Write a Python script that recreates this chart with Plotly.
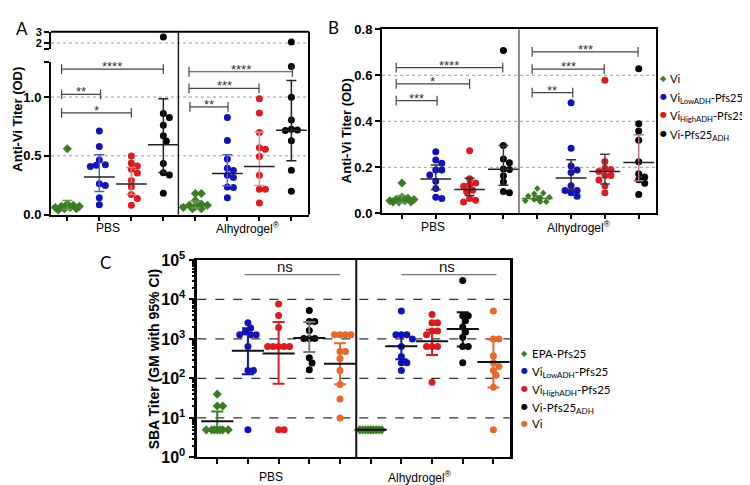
import numpy as np
import plotly.graph_objects as go

W, H = 750, 485
def fx(px): return px / W
def fy(py): return 1 - py / H

# ---------------- data ----------------
adjuvants = ["PBS", "Alhydrogel<sup>®</sup>"]
names_AB = ["Vi", "Vi<sub>LowADH</sub>-Pfs25", "Vi<sub>HighADH</sub>-Pfs25", "Vi-Pfs25<sub>ADH</sub>"]
names_C = ["EPA-Pfs25", "Vi<sub>LowADH</sub>-Pfs25", "Vi<sub>HighADH</sub>-Pfs25", "Vi-Pfs25<sub>ADH</sub>", "Vi"]

# Panel A: anti-Vi titer (OD)
A_pbs_vi = [0.56, 0.09, 0.08, 0.07, 0.07, 0.06, 0.06, 0.05, 0.05, 0.04]
A_pbs_low = [0.71, 0.58, 0.465, 0.424, 0.408, 0.42, 0.263, 0.247, 0.144, 0.084]
A_pbs_high = [0.498, 0.438, 0.413, 0.386, 0.353, 0.291, 0.237, 0.171, 0.136, 0.079]
A_pbs_adh = [2.54, 0.86, 0.826, 0.759, 0.671, 0.625, 0.435, 0.356, 0.337, 0.182]
A_alh_vi = [0.18, 0.18, 0.12, 0.09, 0.08, 0.08, 0.07, 0.06, 0.05, 0.05]
A_alh_low = [0.826, 0.63, 0.473, 0.394, 0.375, 0.334, 0.315, 0.234, 0.23, 0.144]
A_alh_high = [0.985, 0.865, 0.699, 0.568, 0.555, 0.495, 0.334, 0.215, 0.215, 0.098]
A_alh_adh = [2.09, 1.26, 0.998, 0.805, 0.726, 0.72, 0.715, 0.628, 0.378, 0.198]
A_gm = [0.073, 0.32, 0.261, 0.595, 0.079, 0.35, 0.41, 0.718]
A_lo = [0.045, 0.196, 0.17, 0.358, 0.055, 0.245, 0.247, 0.459]
A_hi = [0.12, 0.51, 0.40, 0.985, 0.115, 0.508, 0.70, 1.14]
A_sig_x0 = [-0.18, -0.18, -0.18, 3.8, 3.8, 3.83]
A_sig_x1 = [3.0, 1.04, 2.0, 7.03, 5.99, 5.02]
A_sig_y = [1.237, 1.022, 0.865, 1.215, 1.074, 0.916]
A_sig_txt = ["****", "**", "*", "****", "***", "**"]

# Panel B: anti-Vi titer (OD)
B_pbs_vi = [0.132, 0.07, 0.065, 0.06, 0.06, 0.055, 0.055, 0.05, 0.05, 0.05]
B_pbs_low = [0.268, 0.232, 0.218, 0.188, 0.188, 0.167, 0.139, 0.108, 0.07, 0.064]
B_pbs_high = [0.272, 0.15, 0.132, 0.124, 0.118, 0.1, 0.095, 0.065, 0.057, 0.049]
B_pbs_adh = [0.708, 0.295, 0.236, 0.22, 0.193, 0.19, 0.163, 0.136, 0.095, 0.09]
B_alh_vi = [0.108, 0.088, 0.085, 0.075, 0.07, 0.068, 0.06, 0.055, 0.05, 0.05]
B_alh_low = [0.481, 0.283, 0.206, 0.188, 0.178, 0.12, 0.099, 0.099, 0.089, 0.074]
B_alh_high = [0.578, 0.225, 0.196, 0.19, 0.182, 0.164, 0.164, 0.145, 0.12, 0.09]
B_alh_adh = [0.628, 0.389, 0.358, 0.318, 0.224, 0.172, 0.158, 0.146, 0.131, 0.082]
B_gm = [0.058, 0.149, 0.104, 0.192, 0.065, 0.154, 0.182, 0.221]
B_lo = [0.045, 0.104, 0.077, 0.122, 0.057, 0.102, 0.128, 0.142]
B_hi = [0.077, 0.21, 0.152, 0.295, 0.075, 0.233, 0.257, 0.342]
B_sig_x0 = [-0.17, -0.17, -0.17, 3.85, 3.85, 3.85]
B_sig_x1 = [2.98, 2.0, 1.04, 6.98, 5.98, 5.05]
B_sig_y = [0.633, 0.563, 0.49, 0.702, 0.627, 0.525]
B_sig_txt = ["****", "*", "***", "***", "***", "**"]

# Panel C: SBA titer
C_pbs_epa = [40, 20, 20, 5, 5, 5, 5, 5, 5, 5]
C_pbs_low = [2560, 1900, 1500, 1280, 1280, 1280, 640, 160, 160, 5]
C_pbs_high = [7640, 3900, 1960, 640, 640, 640, 640, 640, 5, 5]
C_pbs_adh = [5250, 2750, 2750, 1630, 1020, 1020, 1020, 333, 245, 167]
C_pbs_vi = [1280, 1280, 1280, 1280, 480, 480, 320, 160, 70, 30, 10]
C_alh_epa = [5, 5, 5, 5, 5, 5, 5, 5, 5, 5]
C_alh_low = [5120, 1280, 1280, 1280, 1000, 640, 360, 250, 250, 160]
C_alh_high = [4140, 2560, 2560, 1600, 1600, 1280, 640, 640, 640, 80]
C_alh_adh = [30000, 3840, 3840, 2900, 2000, 1500, 1100, 640, 640, 250]
C_alh_vi = [5120, 1000, 1000, 370, 250, 200, 160, 120, 60, 5]
C_gm = [8.2, 504, 425, 1060, 235, 5, 654, 880, 1790, 262]
C_lo = [5, 127, 73, 468, 71, 5, 305, 395, 641, 59]
C_hi = [14.6, 1860, 2700, 2700, 773, 5, 1400, 1720, 4710, 967]
C_ns_x0 = [0.89, 6.0]
C_ns_x1 = [4.0, 9.1]
C_ns_y = [42300, 42300]
C_ns_textx = [2.2, 7.5]

# ---------------- styles ----------------
GREEN, BLUE, RED, BLACK, ORANGE = "#3b7d23", "#1212b8", "#dc1a22", "#000000", "#e4692a"
cols_AB = [GREEN, BLUE, RED, BLACK]
cols_C = [GREEN, BLUE, RED, BLACK, ORANGE]
syms_AB = ["diamond", "circle", "circle", "circle"]
syms_C = ["diamond", "circle", "circle", "circle", "circle"]
glyph = {"diamond": "◆", "circle": "●"}
A_ecol = ["#6b9a52", "#5a5ad0", "#e87a7a", "#222222", "#6b9a52", "#5a5ad0", "#f08a8a", "#222222"]
A_ccol = [GREEN, "#222", "#222", "#222", GREEN, "#222", "#222", "#222"]
B_ecol = ["#6b9a52", "#333", "#333", "#333", "#3b6d23", "#333", "#444", "#b07878"]
B_ccol = [GREEN, "#222", "#222", "#222", GREEN, "#222", "#222", "#222"]
C_ecol = [GREEN, BLUE, RED, "#777777", ORANGE, GREEN, BLUE, RED, "#111", ORANGE]
C_ccol = ["#111"] * 10

TICKFONT = dict(family="Liberation Sans, Arial", size=13, color="black", weight="bold")

fig = go.Figure()


def swarm(vals, ypix, ppu, sep, maxw):
    ypix = np.asarray([ypix(v) for v in vals])
    order = np.argsort(ypix)
    placed = []
    offs = np.zeros(len(vals))
    step = sep * 0.5
    for i in order:
        y = ypix[i]
        best, bestd = 0.0, -1
        k = 0
        while True:
            cand = 0.0 if k == 0 else ((k + 1) // 2) * step * (1 if k % 2 else -1)
            if abs(cand) > maxw:
                break
            d = min([np.hypot(cand - px, y - py) for px, py in placed] + [1e9])
            if d >= sep:
                best, bestd = cand, d
                break
            if d > bestd:
                best, bestd = cand, d
            k += 1
        placed.append((best, y))
        offs[i] = best / ppu
    return offs


def ypixA(v): return 204 - 122.6 * v if v <= 1.4 else 25 - 11.7 * (v - 2)
def ypixB(v): return 202.7 - 240 * v
def ypixC(v): return 457.3 - 41.2 * np.log10(v)


def add_points(groups, names, cols, syms, xa, ya_fn, ypix, ppu, sizes, sep, maxw):
    n = len(names)
    for gi, vals in enumerate(groups):
        si = gi % n
        offs = swarm(vals, ypix, ppu, sep, maxw)
        xs = gi + offs
        split = {}
        for x, v in zip(xs, vals):
            split.setdefault(ya_fn(v), ([], []))
            split[ya_fn(v)][0].append(x)
            split[ya_fn(v)][1].append(v)
        for ya, (xx, vv) in split.items():
            fig.add_trace(go.Scatter(
                x=xx, y=vv, xaxis=xa, yaxis=ya, mode="markers",
                marker=dict(symbol=syms[si], size=sizes[gi], color=cols[si], line=dict(width=0)),
                name=names[si], showlegend=False, hoverinfo="y"))


def add_summary(xa, ya, gms, los, his, ecols, ccols, cap, wid, lw):
    for i, (g, lo, hi) in enumerate(zip(gms, los, his)):
        fig.add_trace(go.Scatter(
            x=[i], y=[g], xaxis=xa, yaxis=ya, mode="markers", showlegend=False, hoverinfo="skip",
            marker=dict(symbol="line-ew", size=wid, color=ccols[i], line=dict(width=lw, color=ccols[i])),
            error_y=dict(type="data", symmetric=False, array=[hi - g], arrayminus=[g - lo],
                         color=ecols[i], thickness=lw, width=cap)))


def add_brackets(xa, ya, x0s, x1s, ys, txts, fs):
    for x0, x1, y, t in zip(x0s, x1s, ys, txts):
        fig.add_trace(go.Scatter(
            x=[x0, x1], y=[y, y], xaxis=xa, yaxis=ya, mode="lines+markers", showlegend=False,
            hoverinfo="skip", line=dict(color="#444", width=1.2),
            marker=dict(symbol="line-ns", size=7, line=dict(width=1.2, color="#444"))))
        fig.add_annotation(x=(x0 + x1) / 2, y=y, xref=xa, yref=ya, text=t, showarrow=False,
                           yanchor="bottom", yshift=-7, font=dict(family="Liberation Sans", size=fs, color="#333"))


# ---- panel A ----
A_groups = [A_pbs_vi, A_pbs_low, A_pbs_high, A_pbs_adh, A_alh_vi, A_alh_low, A_alh_high, A_alh_adh]
add_points(A_groups, names_AB, cols_AB, syms_AB, "x", lambda v: "y2" if v > 1.4 else "y",
           ypixA, 32.0, [7] * 8, 6.0, 13)
add_summary("x", "y", A_gm, A_lo, A_hi, A_ecol, A_ccol, 5, 22, 1.5)
add_brackets("x", "y", A_sig_x0, A_sig_x1, A_sig_y, A_sig_txt, 13)

# ---- panel B ----
B_groups = [B_pbs_vi, B_pbs_low, B_pbs_high, B_pbs_adh, B_alh_vi, B_alh_low, B_alh_high, B_alh_adh]
add_points(B_groups, names_AB, cols_AB, syms_AB, "x2", lambda v: "y3",
           ypixB, 33.8, [7, 7, 7, 7, 5, 7, 7, 7], 6.0, 14)
add_summary("x2", "y3", B_gm, B_lo, B_hi, B_ecol, B_ccol, 5, 22, 1.5)
add_brackets("x2", "y3", B_sig_x0, B_sig_x1, B_sig_y, B_sig_txt, 13)

# ---- panel C ----
C_groups = [C_pbs_epa, C_pbs_low, C_pbs_high, C_pbs_adh, C_pbs_vi,
            C_alh_epa, C_alh_low, C_alh_high, C_alh_adh, C_alh_vi]
add_points(C_groups, names_C, cols_C, syms_C, "x3", lambda v: "y4",
           ypixC, 30.7, [7] * 10, 5.5, 12)
add_summary("x3", "y4", C_gm, C_lo, C_hi, C_ecol, C_ccol, 6, 23, 2)
for x0, x1, y, tx in zip(C_ns_x0, C_ns_x1, C_ns_y, C_ns_textx):
    fig.add_trace(go.Scatter(x=[x0, x1], y=[y, y], xaxis="x3", yaxis="y4", mode="lines",
                             showlegend=False, hoverinfo="skip", line=dict(color="#555", width=1)))
    fig.add_annotation(x=tx, y=np.log10(y), xref="x3", yref="y4", text="ns", showarrow=False,
                       yanchor="bottom", yshift=-2, font=dict(family="Liberation Sans", size=15, color="#111"))

# ---------------- axes ----------------
axcommon = dict(showline=True, linecolor="black", showgrid=False, zeroline=False, ticks="outside",
                tickcolor="black", fixedrange=True)
fig.update_layout(
    xaxis=dict(domain=[fx(43), fx(301)], range=[-0.51, 7.55], anchor="y", linewidth=2, tickwidth=1.5,
               ticklen=4, tickvals=list(range(8)), showticklabels=False, **axcommon),
    yaxis=dict(domain=[fy(204), fy(44.6)], range=[0, 1.3], anchor="x", linewidth=2, tickwidth=2,
               ticklen=5, tickvals=[0, 0.5, 1.0, 1.3], ticktext=["0.0", "0.5", "1.0", ""],
               tickfont=TICKFONT, **axcommon),
    yaxis2=dict(domain=[fy(30.9), fy(13.3)], range=[1.5, 3], anchor="x", linewidth=2, tickwidth=2,
                ticklen=5, tickvals=[1.5, 2, 3], ticktext=["", "2", "3"],
                tickfont=dict(TICKFONT, size=11), **axcommon),
    xaxis2=dict(domain=[fx(374), fx(648.3)], range=[-0.59, 7.52], anchor="y3", linewidth=2, tickwidth=1.5,
                ticklen=4, tickvals=list(range(8)), showticklabels=False, mirror=True, **axcommon),
    yaxis3=dict(domain=[fy(202.7), fy(10.7)], range=[0, 0.8], anchor="x2", linewidth=2, tickwidth=1.5,
                ticklen=5, tickvals=[0, 0.2, 0.4, 0.6, 0.8], ticktext=["0.0", "0.2", "0.4", "0.6", "0.8"],
                tickfont=TICKFONT, mirror=True, **axcommon),
    xaxis3=dict(domain=[fx(189.3), fx(502.3)], range=[-0.65, 9.55], anchor="y4", linewidth=2, tickwidth=1.5,
                ticklen=5, tickvals=list(range(10)), showticklabels=False, mirror=True, **axcommon),
    yaxis4=dict(domain=[fy(457.3), fy(251.3)], type="log", range=[0, 5], anchor="x3", linewidth=2.5,
                tickwidth=2, ticklen=6, tickvals=[1, 10, 100, 1000, 10000, 100000],
                ticktext=["10<sup>0</sup>", "10<sup>1</sup>", "10<sup>2</sup>", "10<sup>3</sup>",
                          "10<sup>4</sup>", "10<sup>5</sup>"],
                tickfont=dict(family="Liberation Sans, Arial", size=16, color="black", weight="bold"),
                minor=dict(ticks="outside", ticklen=3, tickcolor="black", dtick="D1", showgrid=False),
                mirror=True, **axcommon),
)

shapes = []
for yv in [0.5, 1.0]:
    shapes.append(dict(type="line", xref="x domain", x0=0, x1=1, yref="y", y0=yv, y1=yv,
                       line=dict(color="#999", width=1, dash="dot"), layer="below"))
shapes.append(dict(type="line", xref="x domain", x0=0, x1=1, yref="y2", y0=2, y1=2,
                   line=dict(color="#999", width=1, dash="dot"), layer="below"))
for yv in [0.2, 0.4, 0.6]:
    shapes.append(dict(type="line", xref="x2 domain", x0=0, x1=1, yref="y3", y0=yv, y1=yv,
                       line=dict(color="#999", width=1, dash="dot"), layer="below"))
for yv in [10, 100, 1000, 10000]:
    shapes.append(dict(type="line", xref="x3 domain", x0=0, x1=1, yref="y4", y0=yv, y1=yv,
                       line=dict(color="#333", width=1.2, dash="dash"), layer="below"))
# panel A frame (top/right) and dividers
shapes.append(dict(type="line", xref="paper", yref="paper", x0=fx(43), x1=fx(301), y0=fy(13.3), y1=fy(13.3),
                   line=dict(color="black", width=2)))
shapes.append(dict(type="line", xref="paper", yref="paper", x0=fx(301), x1=fx(301), y0=fy(204), y1=fy(13.3),
                   line=dict(color="black", width=2)))
shapes.append(dict(type="line", xref="x", yref="paper", x0=3.47, x1=3.47, y0=fy(204), y1=fy(13.3),
                   line=dict(color="#222", width=1.5)))
shapes.append(dict(type="line", xref="x2", yref="y3 domain", x0=3.46, x1=3.46, y0=0, y1=1,
                   line=dict(color="#666", width=1.5)))
shapes.append(dict(type="line", xref="x3", yref="y4 domain", x0=4.53, x1=4.53, y0=0, y1=1,
                   line=dict(color="#111", width=2)))
fig.update_layout(shapes=shapes)


def label(text, px, py, size=12, angle=0, bold=False, family="Liberation Sans, Arial", xanchor="center",
          color="black"):
    fig.add_annotation(text=text, x=fx(px), y=fy(py), xref="paper", yref="paper", showarrow=False,
                       textangle=angle, xanchor=xanchor, yanchor="middle",
                       font=dict(family=family, size=size, color=color, weight="bold" if bold else "normal"))


label("A", 14, 10, size=17, family="Lato")
label("B", 325, 9, size=17, family="Lato")
label("C", 97, 254, size=17, family="Lato")
label("Anti-Vi Titer (OD)", 10, 105, size=13, angle=-90, bold=True)
label("Anti-Vi Titer (OD)", 338, 117, size=13, angle=-90, bold=True)
label("SBA Titer (GM with 95% CI)", 146, 355, size=14, angle=-90, bold=True)
label(adjuvants[0], 100, 218)
label(adjuvants[1], 240, 218)
label(adjuvants[0], 425, 217)
label(adjuvants[1], 571, 217)
label(adjuvants[0], 263, 478)
label(adjuvants[1], 412, 478)

# legends (drawn as text entries next to each panel)
LEG_FONT = "Lato"
legB_y = [62, 81, 100, 119]
for name, col, sym, yy in zip(names_AB, cols_AB, syms_AB, legB_y):
    label(glyph[sym], 655, yy, size=8, family="DejaVu Sans", color=col)
    label(name, 660, yy + (2 if "<sub>" in name else 0), size=11, family=LEG_FONT, xanchor="left")
legC_y = [349, 367, 385, 404, 422]
for name, col, sym, yy in zip(names_C, cols_C, syms_C, legC_y):
    label(glyph[sym], 516, yy, size=8, family="DejaVu Sans", color=col)
    label(name, 522, yy + (2 if "<sub>" in name else 0), size=11.5, family=LEG_FONT, xanchor="left")

fig.update_layout(
    width=W, height=H, autosize=False, margin=dict(l=0, r=0, t=0, b=0),
    paper_bgcolor="white", plot_bgcolor="white", showlegend=False,
)

fig.write_html("out.html")
